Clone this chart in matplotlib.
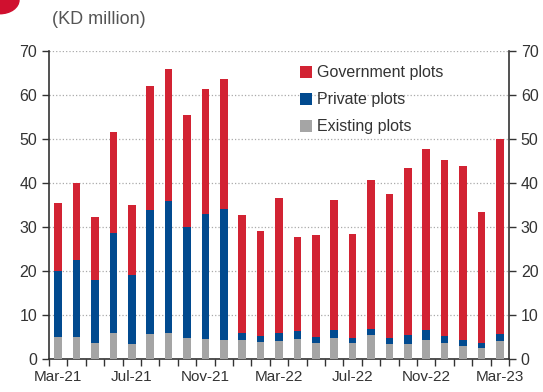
import numpy as np
import matplotlib
matplotlib.use('Agg')
import matplotlib.pyplot as plt
from matplotlib.patches import Circle

plt.rcParams['font.family'] = ['Liberation Sans', 'DejaVu Sans']

months = ['Mar-21', 'Apr-21', 'May-21', 'Jun-21', 'Jul-21', 'Aug-21', 'Sep-21',
          'Oct-21', 'Nov-21', 'Dec-21', 'Jan-22', 'Feb-22', 'Mar-22', 'Apr-22',
          'May-22', 'Jun-22', 'Jul-22', 'Aug-22', 'Sep-22', 'Oct-22', 'Nov-22',
          'Dec-22', 'Jan-23', 'Feb-23', 'Mar-23']

# values read as stacked tops, converted to segments below
existing = [4.9, 5.0, 3.6, 5.8, 3.3, 5.6, 5.9, 4.7, 4.5, 4.3, 4.4, 3.9, 4.1,
            4.6, 3.6, 4.8, 3.7, 5.5, 3.4, 3.4, 4.3, 3.7, 2.9, 2.4, 4.0]
private_top = [20.1, 22.5, 17.9, 28.6, 19.1, 33.8, 35.9, 30.1, 33.0, 34.1, 5.9, 5.3, 5.8,
               6.3, 4.9, 6.6, 4.8, 6.8, 4.7, 5.5, 6.5, 5.3, 4.3, 3.6, 5.6]
total = [35.4, 40.0, 32.2, 51.6, 35.0, 62.1, 66.0, 55.4, 61.4, 63.7, 32.8, 29.2, 36.6,
         27.7, 28.1, 36.1, 28.5, 40.7, 37.5, 43.3, 47.8, 45.3, 43.9, 33.4, 49.9]

existing = np.array(existing)
private = np.array(private_top) - existing
government = np.array(total) - np.array(private_top)

red = '#D22333'
blue = '#014A8F'
grey = '#A5A5A5'
txt = '#333333'

fig = plt.figure(figsize=(5.43, 3.92), dpi=100)
ax = fig.add_axes([0.0902, 0.0842, 0.8472, 0.7857])

x = np.arange(len(months))
w = 0.42
ax.bar(x, existing, w, color=grey, label='Existing plots', zorder=3)
ax.bar(x, private, w, bottom=existing, color=blue, label='Private plots', zorder=3)
ax.bar(x, government, w, bottom=existing + private, color=red,
       label='Government plots', zorder=3)

ax.set_xlim(-0.5, len(months) - 0.5)
ax.set_ylim(0, 70)
ax.set_yticks(np.arange(0, 71, 10))
ax.yaxis.grid(True, linestyle=':', color='#AAAAAA', linewidth=0.9, zorder=0)

ax.set_xticks(x[::4])
ax.set_xticklabels(months[::4])
ax.set_xticks(np.arange(-0.5, len(months), 1), minor=True)
ax.tick_params(axis='x', which='major', length=0, pad=8, labelsize=11, colors=txt)
ax.tick_params(axis='x', which='minor', length=5, width=1, color='#333333', direction='out')
ax.tick_params(axis='y', length=5, width=1, color='#333333', labelsize=11.5,
               colors=txt, left=True, right=True, labelleft=True, labelright=True)

for s in ['left', 'right', 'bottom']:
    ax.spines[s].set_color('#333333')
    ax.spines[s].set_linewidth(1.2)
ax.spines['top'].set_visible(False)

h, l = ax.get_legend_handles_labels()
ax.legend(h[::-1], l[::-1], loc='upper left', bbox_to_anchor=(0.515, 1.0),
          frameon=False, fontsize=11.5, handlelength=0.75, handleheight=0.75,
          handletextpad=0.3, labelspacing=0.75, labelcolor=txt)

fig.text(0.096, 0.95, '(KD million)', fontsize=13, color='#555555', va='center')

# red corner decoration
fig.patches.append(Circle((0, 1), 0.035, transform=fig.transFigure,
                          color='#D0102F', clip_on=False, figure=fig))

fig.savefig('out.png', dpi=100)
